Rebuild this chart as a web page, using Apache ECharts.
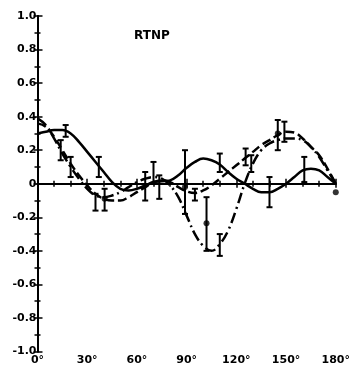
<!DOCTYPE html>
<html>
<head>
<meta charset="utf-8">
<script src="https://cdn.jsdelivr.net/npm/echarts@6/dist/echarts.min.js"></script>
<style>
html,body{margin:0;padding:0;background:#fff;}
#c{width:353px;height:370px;}
</style>
</head>
<body>
<div id="c"></div>
<script>
const angles = [0,5,10,15,20,25,30,35,40,45,50,55,60,65,70,75,80,85,90,95,100,105,110,115,120,125,130,135,140,145,150,155,160,165,170,175,180];
const solidCurve = [0.30,0.31,0.32,0.32,0.30,0.25,0.19,0.13,0.07,0.01,-0.03,-0.04,-0.03,-0.01,0.01,0.015,0.02,0.05,0.095,0.13,0.15,0.14,0.115,0.07,0.03,0.0,-0.03,-0.05,-0.05,-0.03,0.0,0.04,0.08,0.09,0.08,0.04,0.0];
const dashedCurve = [0.36,0.34,0.28,0.20,0.12,0.05,-0.01,-0.06,-0.09,-0.10,-0.10,-0.08,-0.05,-0.02,0.01,0.02,0.01,-0.02,-0.045,-0.055,-0.04,-0.01,0.03,0.07,0.11,0.15,0.19,0.23,0.26,0.29,0.31,0.305,0.27,0.22,0.17,0.09,0.0];
const dashDotCurve = [0.39,0.35,0.27,0.18,0.10,0.03,-0.03,-0.07,-0.08,-0.07,-0.05,-0.02,0.01,0.03,0.04,0.03,-0.01,-0.08,-0.19,-0.30,-0.37,-0.40,-0.36,-0.28,-0.15,0.0,0.12,0.20,0.24,0.26,0.27,0.27,0.26,0.22,0.16,0.08,0.0];

const errAngle = [17,14,20,37,35,40.5,65,70,73.5,89,95,102,110,110,125.6,129,140,145,149,161];
const errLow   = [0.28,0.14,0.04,0.04,-0.16,-0.16,-0.10,0.0,-0.09,-0.18,-0.10,-0.40,0.07,-0.43,0.11,0.07,-0.14,0.20,0.25,0.01];
const errHigh  = [0.35,0.26,0.16,0.16,-0.06,-0.03,0.07,0.13,0.05,0.20,-0.03,-0.08,0.18,-0.30,0.21,0.17,0.04,0.38,0.37,0.16];

const dotAngle = [40.5,89,102,145,180];
const dotValue = [-0.09,-0.02,-0.235,0.30,-0.05];

const xTicks = [0,30,60,90,120,150,180];
const xTickLabels = ['0°','30°','60°','90°','120°','150°','180°'];
const yTickLabels = {'1':'1.0','0.8':'0.8','0.6':'0.6','0.4':'0.4','0.2':'0.2','0':'0','-0.2':'-0.2','-0.4':'-0.4','-0.6':'-0.6','-0.8':'-0.8','-1':'-1.0'};

const zip = (xs, ys) => xs.map((x, i) => [x, ys[i]]);
const errData = errAngle.map((a, i) => [a, errLow[i], errHigh[i]]);

const chart = echarts.init(document.getElementById('c'), null, {renderer: 'canvas'});
const lineW = 2;
const axisLine = {show: true, lineStyle: {color: '#000', width: 2}};
const fontFam = 'DejaVu Sans';

chart.setOption({
  animation: false,
  backgroundColor: '#fff',
  title: {
    text: 'RTNP', left: 129, top: 25,
    textStyle: {fontFamily: fontFam, fontWeight: 'bold', fontSize: 12, color: '#000'}
  },
  grid: {left: 37.5, right: 8, top: 16, bottom: 18.5, containLabel: false},
  xAxis: [{
    type: 'value', min: 0, max: 180, interval: 30, position: 'bottom',
    axisLine: axisLine,
    axisTick: {show: true, inside: true, length: 5, lineStyle: {color: '#000', width: 1.5}},
    minorTick: {show: true, splitNumber: 3, length: 3, lineStyle: {color: '#000', width: 1.5}},
    splitLine: {show: false},
    axisLabel: {
      margin: 3, color: '#000', fontFamily: fontFam, fontWeight: 'bold', fontSize: 11,
      formatter: v => xTickLabels[xTicks.indexOf(v)]
    }
  }, {
    type: 'value', min: 0, max: 180, interval: 30, position: 'top',
    axisLine: axisLine,
    axisTick: {show: true, inside: true, length: 4, lineStyle: {color: '#000', width: 1.5}},
    minorTick: {show: true, splitNumber: 3, length: 3, lineStyle: {color: '#000', width: 1.5}},
    splitLine: {show: false}, axisLabel: {show: false}
  }],
  yAxis: [{
    type: 'value', min: -1, max: 1, interval: 0.2, position: 'left',
    axisLine: axisLine,
    axisTick: {show: true, inside: true, length: 5, lineStyle: {color: '#000', width: 1.5}},
    minorTick: {show: true, splitNumber: 2, length: 3, lineStyle: {color: '#000', width: 1.5}},
    splitLine: {show: false},
    axisLabel: {
      margin: 1, color: '#000', fontFamily: fontFam, fontWeight: 'bold', fontSize: 11,
      formatter: v => yTickLabels[String(Math.round(v * 10) / 10)]
    }
  }, {
    type: 'value', min: -1, max: 1, interval: 0.2, position: 'right',
    axisLine: axisLine,
    axisTick: {show: true, inside: true, length: 4, lineStyle: {color: '#000', width: 1.5}},
    minorTick: {show: true, splitNumber: 2, length: 3, lineStyle: {color: '#000', width: 1.5}},
    splitLine: {show: false}, axisLabel: {show: false}
  }],
  series: [
    {
      type: 'line', name: 'solid', data: zip(angles, solidCurve), smooth: 0.4,
      showSymbol: false, lineStyle: {color: '#000', width: 2.5, type: 'solid'},
      markLine: {
        silent: true, symbol: 'none', label: {show: false},
        lineStyle: {color: '#000', width: 2, type: 'solid'},
        data: [{yAxis: 0}]
      }
    },
    {
      type: 'line', name: 'dashed', data: zip(angles, dashedCurve), smooth: 0.4,
      showSymbol: false, lineStyle: {color: '#000', width: 2.5, type: [9, 4]}
    },
    {
      type: 'line', name: 'dashdot', data: zip(angles, dashDotCurve), smooth: 0.4,
      showSymbol: false, lineStyle: {color: '#000', width: 2.5, type: [11, 4, 2, 4]}
    },
    {
      type: 'custom', name: 'err', data: errData,
      renderItem: function (params, api) {
        const x = api.value(0);
        const lo = api.coord([x, api.value(1)]);
        const hi = api.coord([x, api.value(2)]);
        const hw = 3;
        const st = {stroke: '#000', lineWidth: lineW};
        return {
          type: 'group',
          children: [
            {type: 'line', shape: {x1: lo[0], y1: lo[1], x2: hi[0], y2: hi[1]}, style: st},
            {type: 'line', shape: {x1: lo[0] - hw, y1: lo[1], x2: lo[0] + hw, y2: lo[1]}, style: st},
            {type: 'line', shape: {x1: hi[0] - hw, y1: hi[1], x2: hi[0] + hw, y2: hi[1]}, style: st}
          ]
        };
      }
    },
    {
      type: 'scatter', name: 'dots', data: zip(dotAngle, dotValue),
      symbol: 'circle', symbolSize: 6, itemStyle: {color: '#000'}
    }
  ]
});
</script>
</body>
</html>
